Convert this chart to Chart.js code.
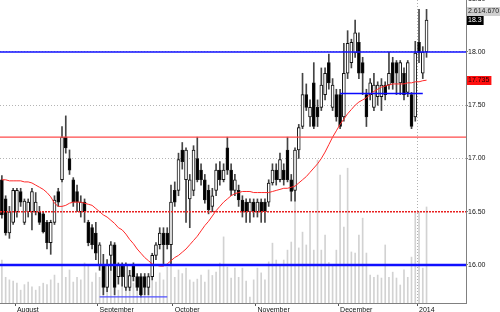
<!DOCTYPE html>
<html>
<head>
<meta charset="utf-8">
<script src="https://cdn.jsdelivr.net/npm/chart.js@4.4.1/dist/chart.umd.min.js"></script>
<style>
  html, body { margin: 0; padding: 0; background: #fff; }
  canvas { display: block; }
</style>
</head>
<body>
<canvas id="myChart" width="500" height="312"></canvas>
<script>
// daily prices (Aug 2013 - Jan 2014)
const open = [
  16.80, 16.62, 16.30, 16.40, 16.50, 16.69, 16.40, 16.50, 16.50, 16.50,
  16.50, 16.48, 16.40, 16.21, 16.40, 16.69, 16.80, 17.20, 17.00, 16.80,
  16.69, 16.50, 16.59, 16.40, 16.35, 16.30, 16.00, 16.00, 15.79, 16.09,
  16.19, 15.89, 16.00, 15.79, 15.79, 16.00, 15.89, 15.89, 15.89, 15.79,
  15.89, 16.09, 16.19, 16.30, 16.30, 16.19, 16.70, 16.70, 17.08, 16.80,
  16.62, 16.70, 17.00, 16.89, 16.80, 16.70, 16.55, 16.70, 16.89, 16.80,
  17.10, 16.89, 16.70, 16.70, 16.61, 16.59, 16.50, 16.59, 16.50, 16.59,
  16.59, 16.59, 16.77, 16.89, 16.80, 16.89, 17.08, 16.80, 16.70, 17.08,
  17.30, 17.60, 17.39, 17.71, 17.48, 17.48, 17.60, 17.90, 17.48, 17.60,
  17.60, 17.39, 17.80, 17.90, 17.99, 18.09, 17.90, 17.60, 17.60, 17.48,
  17.58, 17.58, 17.69, 17.69, 17.90, 17.90, 17.71, 17.80, 17.62, 17.60,
  17.39, 18.09, 17.80, 18.00
];
const high = [
  16.84, 16.65, 16.55, 16.72, 16.72, 16.72, 16.62, 16.62, 16.72, 16.68,
  16.55, 16.50, 16.42, 16.42, 16.65, 16.72, 17.30, 17.40, 17.08, 16.82,
  16.75, 16.65, 16.62, 16.42, 16.38, 16.40, 16.21, 16.10, 16.05, 16.22,
  16.21, 16.02, 16.02, 16.02, 15.95, 16.02, 15.92, 15.92, 15.92, 15.92,
  16.11, 16.21, 16.35, 16.35, 16.35, 16.75, 16.78, 17.05, 17.15, 17.10,
  16.85, 17.12, 17.20, 16.95, 16.85, 16.75, 16.72, 16.95, 16.97, 16.95,
  17.20, 16.95, 16.85, 16.75, 16.65, 16.62, 16.62, 16.62, 16.62, 16.62,
  16.62, 16.80, 16.95, 16.95, 17.05, 16.95, 17.20, 16.85, 17.10, 17.32,
  17.80, 17.70, 17.55, 17.90, 17.55, 17.85, 17.85, 17.98, 17.75, 17.65,
  17.65, 18.08, 18.20, 18.12, 18.30, 18.18, 17.95, 17.65, 17.75, 17.80,
  17.72, 17.75, 17.72, 18.00, 17.95, 17.92, 17.92, 17.85, 17.92, 17.62,
  18.10, 18.40, 18.05, 18.40
];
const low = [
  16.44, 16.28, 16.25, 16.38, 16.45, 16.55, 16.38, 16.45, 16.33, 16.47,
  16.38, 16.30, 16.15, 16.10, 16.38, 16.55, 16.78, 17.05, 16.85, 16.55,
  16.50, 16.45, 16.40, 16.18, 16.15, 16.05, 15.95, 15.72, 15.75, 15.95,
  15.72, 15.82, 15.80, 15.76, 15.76, 15.85, 15.76, 15.70, 15.72, 15.72,
  15.86, 16.05, 16.15, 16.00, 16.15, 16.00, 16.55, 16.65, 16.90, 16.40,
  16.35, 16.65, 16.78, 16.75, 16.58, 16.48, 16.50, 16.65, 16.75, 16.78,
  16.85, 16.65, 16.65, 16.55, 16.45, 16.40, 16.40, 16.45, 16.45, 16.40,
  16.40, 16.55, 16.75, 16.75, 16.78, 16.75, 16.78, 16.60, 16.60, 17.00,
  17.28, 17.45, 17.30, 17.28, 17.30, 17.45, 17.55, 17.65, 17.45, 17.35,
  17.28, 17.35, 17.75, 17.85, 17.95, 17.75, 17.60, 17.30, 17.55, 17.45,
  17.50, 17.45, 17.55, 17.65, 17.65, 17.60, 17.60, 17.55, 17.58, 17.28,
  17.35, 17.90, 17.75, 17.95
];
const close = [
  16.47, 16.30, 16.50, 16.70, 16.70, 16.59, 16.60, 16.59, 16.69, 16.59,
  16.40, 16.31, 16.21, 16.40, 16.61, 16.59, 17.20, 17.10, 16.89, 16.59,
  16.59, 16.59, 16.50, 16.21, 16.19, 16.11, 16.19, 15.79, 16.00, 16.19,
  15.79, 16.00, 15.89, 16.00, 15.90, 15.89, 15.79, 15.72, 15.79, 15.89,
  16.09, 16.19, 16.30, 16.19, 16.19, 16.59, 16.59, 16.99, 16.97, 17.08,
  16.80, 17.08, 16.80, 16.80, 16.61, 16.52, 16.65, 16.89, 16.80, 16.89,
  16.89, 16.70, 16.80, 16.61, 16.50, 16.50, 16.59, 16.50, 16.59, 16.50,
  16.50, 16.77, 16.89, 16.80, 16.99, 16.80, 16.80, 16.69, 17.08, 17.29,
  17.60, 17.48, 17.48, 17.30, 17.39, 17.69, 17.80, 17.71, 17.69, 17.39,
  17.30, 17.80, 18.08, 18.09, 18.18, 17.80, 17.80, 17.39, 17.71, 17.69,
  17.69, 17.69, 17.60, 17.80, 17.71, 17.80, 17.90, 17.60, 17.90, 17.30,
  17.99, 17.99, 18.00, 18.30
];
// moving average (red line)
const ma = [
  16.80, 16.80, 16.79, 16.79, 16.79, 16.79, 16.78, 16.78, 16.77, 16.75,
  16.73, 16.71, 16.68, 16.64, 16.58, 16.55, 16.55, 16.56, 16.58, 16.59,
  16.59, 16.59, 16.58, 16.57, 16.56, 16.53, 16.50, 16.47, 16.45, 16.42,
  16.39, 16.35, 16.33, 16.29, 16.24, 16.20, 16.15, 16.11, 16.07, 16.04,
  16.01, 16.00, 15.99, 15.99, 16.01, 16.04, 16.07, 16.09, 16.12, 16.15,
  16.19, 16.23, 16.27, 16.32, 16.37, 16.41, 16.46, 16.51, 16.55, 16.59,
  16.62, 16.65, 16.67, 16.68, 16.69, 16.69, 16.69, 16.68, 16.68, 16.68,
  16.68, 16.68, 16.69, 16.70, 16.71, 16.72, 16.72, 16.73, 16.74, 16.77,
  16.80, 16.83, 16.87, 16.91, 16.95, 17.00, 17.06, 17.13, 17.20, 17.26,
  17.32, 17.37, 17.42, 17.46, 17.50, 17.53, 17.55, 17.57, 17.60, 17.63,
  17.65, 17.67, 17.68, 17.69, 17.70, 17.70, 17.70, 17.70, 17.71, 17.71,
  17.72, 17.72, 17.73, 17.735
];
// volume in millions
const volume = [
  1.17, 0.70, 0.63, 0.60, 0.54, 0.35, 0.50, 0.57, 0.44, 0.35,
  0.45, 0.54, 0.50, 0.63, 0.76, 0.54, 4.43, 0.70, 0.90, 0.57,
  0.70, 0.63, 1.09, 1.03, 0.57, 0.82, 0.70, 0.57, 0.54, 0.90,
  0.44, 0.35, 0.54, 0.70, 0.50, 0.54, 0.60, 0.44, 0.70, 0.55,
  0.62, 0.57, 0.82, 0.63, 0.98, 1.17, 0.70, 0.90, 0.80, 0.95,
  0.63, 0.57, 0.65, 0.76, 0.57, 0.90, 0.75, 0.84, 1.09, 1.80,
  0.98, 0.68, 0.95, 0.70, 0.95, 0.60, 0.16, 0.63, 0.95, 0.82,
  0.63, 1.12, 1.63, 1.17, 1.03, 1.17, 1.44, 1.66, 3.07, 1.50,
  1.93, 1.58, 2.45, 1.44, 3.89, 1.44, 1.85, 1.10, 1.05, 1.44,
  3.48, 2.07, 3.67, 1.39, 1.36, 1.85, 2.31, 1.36, 0.76, 0.70,
  0.76, 0.68, 1.58, 0.70, 0.84, 0.68, 0.49, 0.90, 0.70, 1.25,
  2.48, 2.48, 0.95, 2.61467
];

// x axis: trading-day slots (empty room kept on the right)
const slotCount = 124;
const tickIdx = [4, 26, 46, 68, 90, 111];
const tickLabels = ['August', 'September', 'October', 'November', 'December', '2014'];
const yearIdx = 111;

// horizontal levels
const blueLevels = [18.00, 16.00];
const redLevel = 17.20;
const redDotted = 16.50;
const shortLevels = [15.70, 17.61];
const shortFrom = [26, 90];
const shortTo = [44, 112];

const labels = Array.from({ length: slotCount }, (_, i) => i);
const font = { family: 'Liberation Sans', size: 7 };

const levelsPlugin = {
  id: 'levels',
  afterDatasetsDraw(chart) {
    const { ctx, chartArea: a, scales: { x, y } } = chart;
    const hline = (v, x1, x2, color, width, dash) => {
      const py = y.getPixelForValue(v);
      ctx.save();
      ctx.strokeStyle = color;
      ctx.lineWidth = width;
      ctx.setLineDash(dash || []);
      ctx.beginPath();
      ctx.moveTo(x1, py);
      ctx.lineTo(x2, py);
      ctx.stroke();
      ctx.restore();
    };
    ctx.save();
    ctx.beginPath();
    ctx.rect(a.left, a.top, a.right - a.left, a.bottom - a.top);
    ctx.clip();
    hline(redLevel, a.left, a.right, '#ff4a4a', 1.2);
    hline(redDotted, a.left, a.right, '#e82020', 1.5, [2, 1]);
    hline(blueLevels[0], a.left, a.right, '#1010ff', 1.5);
    hline(blueLevels[1], a.left, a.right, '#1010ff', 2.5);
    hline(shortLevels[0], x.getPixelForValue(shortFrom[0]), x.getPixelForValue(shortTo[0]), '#5050ff', 1.2);
    hline(shortLevels[1], x.getPixelForValue(shortFrom[1]), x.getPixelForValue(shortTo[1]), '#0a0aff', 1.5);
    ctx.restore();
  },
  afterDraw(chart) {
    const { ctx, chartArea: a, scales: { y } } = chart;
    const n = close.length - 1;
    const box = (text, py, bg, fg, w) => {
      ctx.save();
      ctx.font = '7px "Liberation Sans"';
      const tw = w || ctx.measureText(text).width + 3;
      ctx.fillStyle = bg;
      ctx.fillRect(a.right + 1, Math.round(py - 4.5), tw, 9);
      ctx.fillStyle = fg;
      ctx.textBaseline = 'middle';
      ctx.fillText(text, a.right + 2, py);
      ctx.restore();
    };
    const yClose = y.getPixelForValue(close[n]);
    const vol = String(Math.round(volume[n] * 1e6)).replace(/\B(?=(\d{3})+(?!\d))/g, '.');
    box(vol, yClose - 9, '#cfcfcf', '#222', 40);
    box(String(close[n]), yClose, '#000', '#fff');
    box(String(ma[n]), y.getPixelForValue(ma[n]), '#ff1010', '#200');
    // top tick label partly off canvas
    ctx.save();
    ctx.font = '7px "Liberation Sans"';
    ctx.fillStyle = '#111';
    ctx.textBaseline = 'middle';
    ctx.fillText('18.50', a.right + 2, y.getPixelForValue(18.5));
    ctx.restore();
  }
};

const config = {
  type: 'bar',
  data: {
    labels: labels,
    datasets: [
      {
        type: 'line',
        data: ma,
        borderColor: '#ff2a2a',
        borderWidth: 1,
        pointRadius: 0,
        order: 1
      },
      {
        data: open.map((o, i) => [o, close[i]]),
        backgroundColor: ctx => close[ctx.dataIndex] >= open[ctx.dataIndex] ? '#fff' : '#000',
        borderColor: '#111',
        borderWidth: 1,
        borderSkipped: false,
        barThickness: 3,
        grouped: false,
        order: 2
      },
      {
        data: low.map((l, i) => [l, high[i]]),
        backgroundColor: '#444',
        barThickness: 1,
        grouped: false,
        order: 3
      },
      {
        data: volume,
        yAxisID: 'yVol',
        backgroundColor: '#d2d2d2',
        barThickness: 1,
        grouped: false,
        order: 4
      }
    ]
  },
  options: {
    responsive: false,
    animation: false,
    devicePixelRatio: 1,
    layout: { padding: 0 },
    plugins: { legend: { display: false }, tooltip: { enabled: false } },
    scales: {
      x: {
        offset: true,
        grid: {
          offset: true,
          color: ctx => ctx.index === yearIdx ? '#b0b0b0' : 'rgba(0,0,0,0)',
          tickColor: ctx => tickIdx.includes(ctx.index) ? '#555' : 'rgba(0,0,0,0)',
          tickLength: 3
        },
        border: { color: '#808080', dash: [1, 2] },
        ticks: {
          autoSkip: false,
          maxRotation: 0,
          minRotation: 0,
          align: 'start',
          padding: 0,
          color: '#111',
          font: font,
          callback: (v, i) => {
            const k = tickIdx.indexOf(i);
            return k >= 0 ? tickLabels[k] : '';
          }
        },
        afterFit: s => {
          s.height = 9;
          s.paddingLeft = 0;
          s.paddingRight = 0;
        }
      },
      y: {
        position: 'right',
        min: 15.643,
        max: 18.488,
        grid: { color: '#b4b4b4', tickColor: '#808080', tickLength: 2 },
        border: { color: '#808080', dash: [1, 2] },
        ticks: {
          stepSize: 0.5,
          includeBounds: false,
          padding: 0,
          color: '#111',
          font: font,
          callback: v => v.toFixed(2)
        },
        afterFit: s => {
          s.width = 34;
          s.paddingTop = 0;
          s.paddingBottom = 0;
        }
      },
      yVol: {
        display: false,
        min: 0,
        max: 8.25
      }
    }
  },
  plugins: [levelsPlugin]
};

const ctx = document.getElementById('myChart').getContext('2d');
const myChart = new Chart(ctx, config);
</script>
</body>
</html>
